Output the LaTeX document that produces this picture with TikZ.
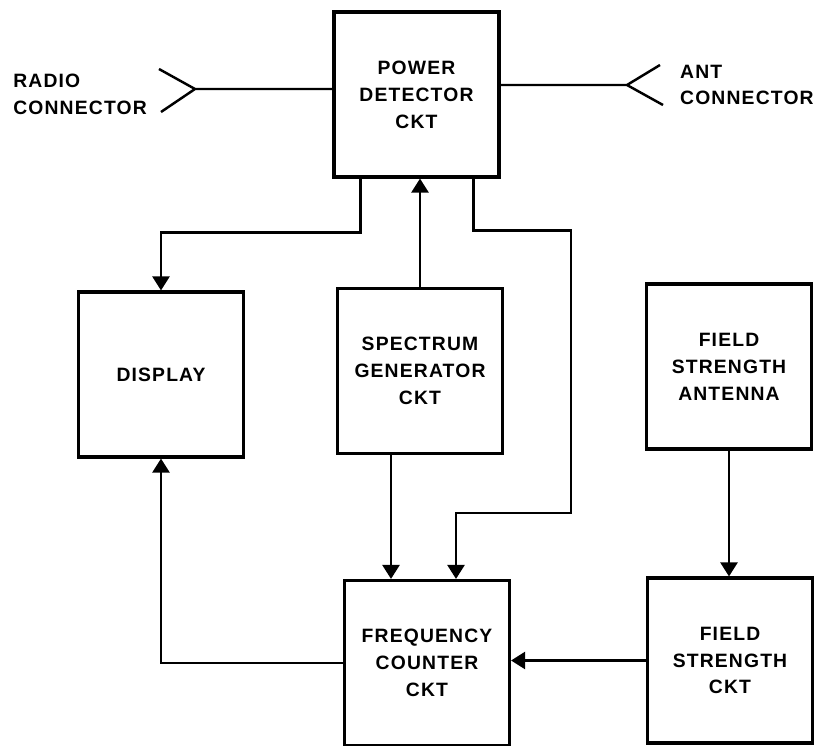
\documentclass[tikz,border=0pt]{standalone}
\usepackage{fontspec}
\setmainfont{Liberation Sans}[LetterSpace=6]
\usepackage{xcolor}
\usepackage{tikz}
\usetikzlibrary{positioning,arrows.meta,calc}

\begin{document}
\begin{tikzpicture}[
    x=0.02cm, y=-0.02cm,
    every node/.style={
        font=\fontsize{11}{15.3}\selectfont\bfseries,
        align=center
    },
    block/.style={
        rectangle,
        draw=black,
        line width=1.8pt,
        minimum width=3.3cm,
        minimum height=3.3cm,
        inner sep=0pt
    },
    wire/.style={
        line width=1.4pt
    },
    arrow/.style={
        -{Triangle[width=0.34cm,length=0.28cm]},
        line width=1.4pt
    }
]
\useasboundingbox (0,0) rectangle (815,746);

\node[block] (pdc) at (416.5,94.5) {POWER\\DETECTOR\\CKT};
\node[block] (disp) at (161,374.5) {DISPLAY};
\node[block] (spec) at (420,371) {SPECTRUM\\GENERATOR\\CKT};
\node[block] (fsa) at (729,366.5) {FIELD\\STRENGTH\\ANTENNA};
\node[block] (fcc) at (427,663) {FREQUENCY\\COUNTER\\CKT};
\node[block] (fsc) at (730,660.5) {FIELD\\STRENGTH\\CKT};

% connectors
\coordinate (radio) at (195,89);
\coordinate (ant) at (627,85);
\coordinate (bend) at (571,513);

\node[align=left, left=0.84cm of radio, yshift=-0.1cm] (radiolbl) {RADIO\\CONNECTOR};
\node[align=left, right=0.94cm of ant] (antlbl) {ANT\\CONNECTOR};

\draw[wire] (radio -| pdc.west) -- (radio) -- ++(-36,-20) (radio) -- ++(-34,23);
\draw[wire] (ant -| pdc.east) -- (ant) -- ++(33,-20) (ant) -- ++(36,20);

\draw[arrow] ($(pdc.south)+(-56,0)$) -- ++(0,54) -| (disp.north);
\draw[arrow] (spec.north) -- (spec.north |- pdc.south);
\draw[arrow] ($(pdc.south)+(57,0)$) -- ++(0,52) -| (bend) -| ($(fcc.north)+(29,0)$);
\draw[arrow] ($(spec.south)+(-29,0)$) -- ($(fcc.north)+(-36,0)$);
\draw[arrow] (fsa.south) -- (fsa.south |- fsc.north);
\draw[arrow] (fsc.west) -- (fsc.west -| fcc.east);
\draw[arrow] (fcc.west) -| (disp.south);

\end{tikzpicture}
\end{document}
